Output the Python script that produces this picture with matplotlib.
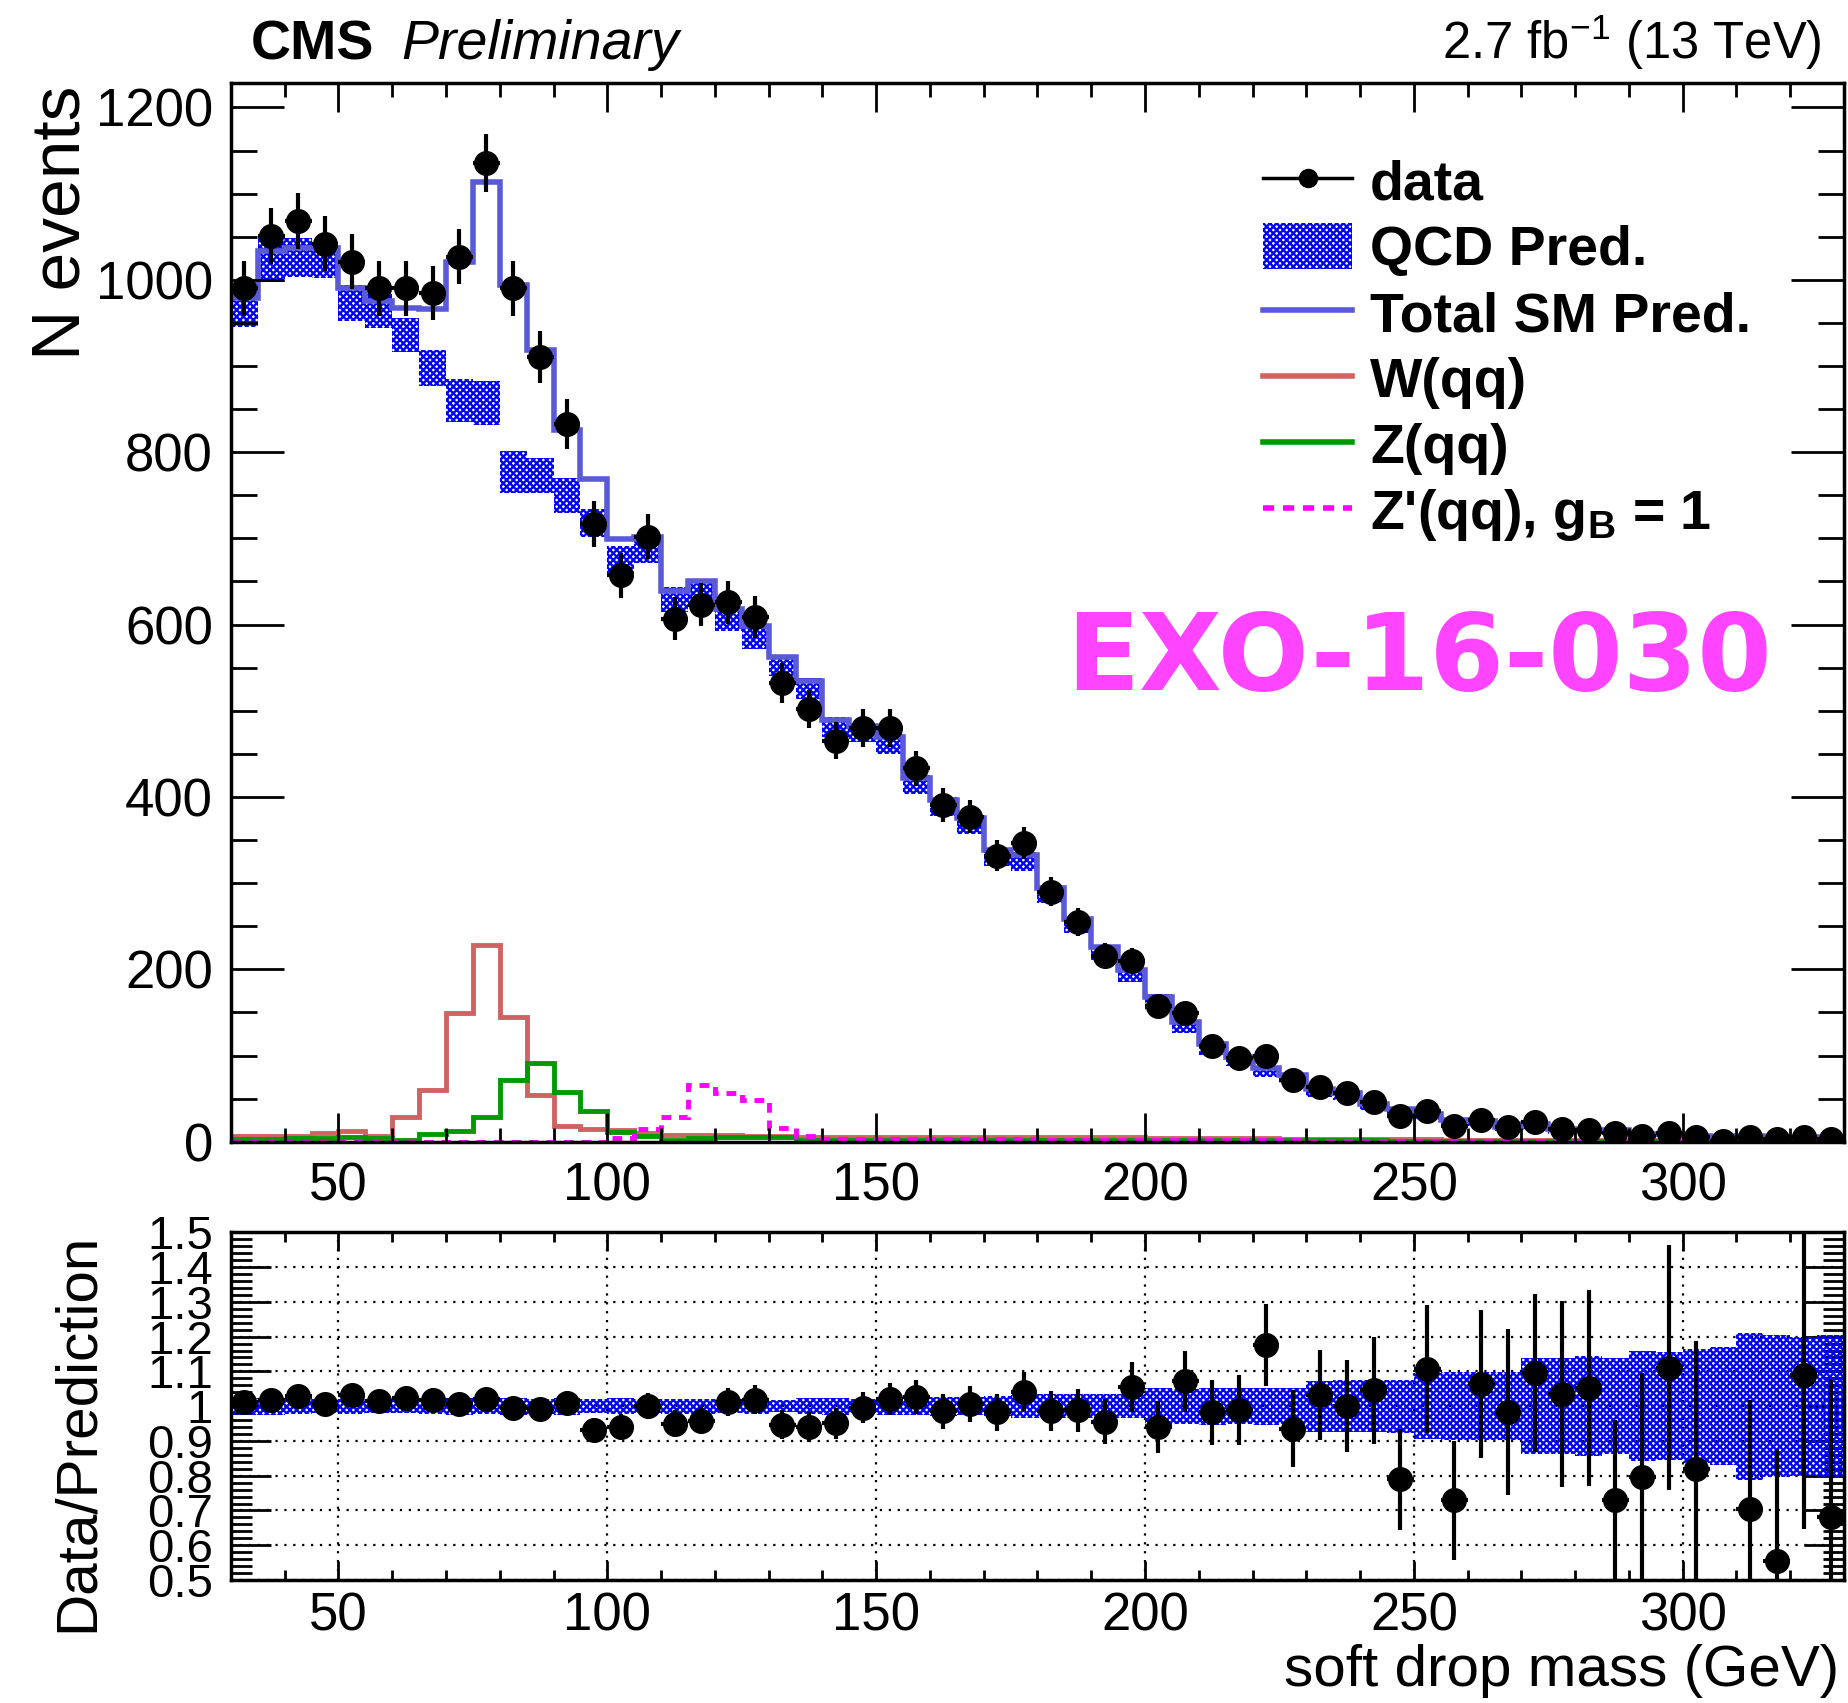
import numpy as np
import matplotlib
matplotlib.use("Agg")
import matplotlib.pyplot as plt
from matplotlib.lines import Line2D
from matplotlib.patches import Patch
from matplotlib.ticker import MultipleLocator, FormatStrFormatter

plt.rcParams['font.family'] = ['Liberation Sans', 'DejaVu Sans']
plt.rcParams['mathtext.fontset'] = 'custom'
plt.rcParams['mathtext.rm'] = 'Liberation Sans'
plt.rcParams['mathtext.bf'] = 'Liberation Sans:bold'
plt.rcParams['hatch.linewidth'] = 1.7

# soft drop mass binning, 5 GeV bins from 30 to 330
edges = np.arange(30, 335, 5)
centers = edges[:-1] + 2.5

data = [990, 1051, 1068, 1042, 1021, 990, 990, 985, 1027, 1136,
        990, 910, 833, 717, 657, 702, 607, 623, 626, 609,
        532, 502, 465, 480, 480, 433, 391, 377, 332, 347,
        290, 255, 216, 210, 158, 149, 111, 97, 100, 72,
        63, 57, 46, 30, 36, 18, 25, 17, 23, 15,
        14, 10, 7, 10, 5, 1, 5, 3, 6, 3]

qcd = [969, 1023, 1026, 1023, 973, 964, 936, 898, 860, 857,
       777, 773, 750, 718, 675, 685, 629, 638, 605, 585,
       550, 526, 481, 474, 462, 414, 389, 367, 330, 325,
       287, 251, 219, 192, 162, 133, 107, 92.5, 79.5, 72.5,
       56.5, 52.5, 39.5, 34, 28.5, 21.7, 20.5, 14.3, 18, 11.5,
       10.3, 11.2, 6.3, 6.5, 4.6, 3.5, 5.6, 3.9, 4, 2.9]

qcd_err = [24, 25, 23, 21, 21, 20, 20, 21, 25, 26,
           24, 20, 20, 16, 16, 14, 14, 14, 12, 13,
           10, 12, 12, 10, 12, 11, 11, 10, 10, 11,
           10, 9, 8, 7, 9, 7, 6, 5, 4.5, 4,
           4.5, 4.3, 3.3, 2.9, 3.1, 2.4, 2.3, 1.7, 2.9, 2,
           1.9, 1.9, 1.4, 1.4, 1.0, 0.85, 1.5, 1.1, 1.1, 0.9]

wqq = [7, 7, 7, 10, 12, 7, 29, 60, 149, 228,
       145, 54, 18, 15, 13, 10, 8, 8, 8, 7,
       7, 6] + [6] * 8 + [5] * 4 + [4] * 5 + [3] * 6 + [2] * 6 + [1.5] * 3 + [1] * 6

zqq = [3, 3, 4, 4, 5, 4, 2, 8.5, 12, 29,
       72, 91, 58, 36, 11, 7, 2, 4, 5, 6,
       5] + [2] * 16 + [1.5] * 6 + [1] * 11 + [0.5] * 6

zprime = [0] * 14 + [4, 15, 29, 66, 56, 48, 16, 7] + [3] * 8 + [2] * 10 + [1] * 20

data = np.array(data, dtype=float)
qcd = np.array(qcd, dtype=float)
qcd_err = np.array(qcd_err, dtype=float)
wqq = np.array(wqq, dtype=float)
zqq = np.array(zqq, dtype=float)
zprime = np.array(zprime, dtype=float)

# total SM prediction = QCD + W + Z
total = qcd + wqq + zqq

sm_color = '#5a5ad8'
w_color = '#d06262'
z_color = '#009a00'
zp_color = '#ff00ff'
band_hatch = 'xxxxx'

fig = plt.figure(figsize=(18.49, 17.03), dpi=100)
ax = fig.add_axes([0.1249, 0.3296, 0.8724, 0.6215])
ax2 = fig.add_axes([0.1249, 0.0722, 0.8724, 0.2042])

# upper panel
ax.bar(centers, 2 * qcd_err, bottom=qcd - qcd_err, width=5,
       facecolor='none', edgecolor='blue', hatch=band_hatch, linewidth=0)
ax.stairs(total, edges, baseline=None, color=sm_color, linewidth=4)
ax.stairs(wqq, edges, baseline=None, color=w_color, linewidth=3.5)
ax.stairs(zqq, edges, baseline=None, color=z_color, linewidth=3.5)
ax.stairs(zprime, edges, baseline=None, color=zp_color, linewidth=3.5,
          linestyle=(0, (2, 1.6)))
ax.errorbar(centers, data, yerr=np.sqrt(data), xerr=2.5, fmt='o',
            color='black', ms=17, elinewidth=3, capsize=0)

ax.set_xlim(30, 330)
ax.set_ylim(0, 1228)
ax.xaxis.set_major_locator(MultipleLocator(50))
ax.xaxis.set_minor_locator(MultipleLocator(10))
ax.yaxis.set_major_locator(MultipleLocator(200))
ax.yaxis.set_minor_locator(MultipleLocator(50))
ax.tick_params(which='both', direction='in', top=True, right=True, width=2,
               labelsize=38)
ax.tick_params(axis='y', which='major', length=38, pad=13)
ax.tick_params(axis='y', which='minor', length=19)
ax.tick_params(axis='x', which='major', length=21, pad=14)
ax.tick_params(axis='x', which='minor', length=10)
for sp in ax.spines.values():
    sp.set_linewidth(2.5)

ax.text(185.4, 524, 'EXO-16-030', color='#ff44ff', fontsize=77,
        family='DejaVu Sans', weight='bold', ha='left', va='baseline')

handles = [
    Line2D([], [], color='black', marker='o', ms=13, lw=2.5),
    Patch(facecolor='none', edgecolor='blue', hatch=band_hatch, linewidth=0),
    Line2D([], [], color=sm_color, lw=4),
    Line2D([], [], color=w_color, lw=4),
    Line2D([], [], color=z_color, lw=4),
    Line2D([], [], color=zp_color, lw=4, linestyle=(0, (2, 1.6))),
]
labels = ['data', 'QCD Pred.', 'Total SM Pred.', 'W(qq)', 'Z(qq)',
          r"Z'(qq), g$_{\mathbf{B}}$ = 1"]
ax.legend(handles, labels, loc='upper left', bbox_to_anchor=(0.64, 0.93),
          frameon=False, borderpad=0, borderaxespad=0,
          prop={'weight': 'bold', 'size': 40}, handlelength=1.6,
          handleheight=0.9, handletextpad=0.32, labelspacing=0.21)

# ratio panel
ax2.bar(centers, 2 * qcd_err / total, bottom=(qcd - qcd_err + wqq + zqq) / total,
        width=5, facecolor='none', edgecolor='blue', hatch=band_hatch, linewidth=0)
ax2.errorbar(centers, data / total, yerr=np.sqrt(data) / total, xerr=2.5,
             fmt='o', color='black', ms=17, elinewidth=3, capsize=0)
ax2.set_xlim(30, 330)
ax2.set_ylim(0.5, 1.5)
ax2.xaxis.set_major_locator(MultipleLocator(50))
ax2.xaxis.set_minor_locator(MultipleLocator(10))
ax2.yaxis.set_major_locator(MultipleLocator(0.1))
ax2.yaxis.set_minor_locator(MultipleLocator(0.02))
ax2.yaxis.set_major_formatter(FormatStrFormatter('%g'))
ax2.grid(True, which='major', color='black', linestyle=(0, (1, 3)), linewidth=1.6)
ax2.set_axisbelow(True)
ax2.tick_params(which='both', direction='in', top=True, right=True, width=2)
ax2.tick_params(axis='y', which='major', length=29, pad=13, labelsize=34)
ax2.tick_params(axis='y', which='minor', length=15)
ax2.tick_params(axis='x', which='major', length=14, pad=8, labelsize=38)
ax2.tick_params(axis='x', which='minor', length=7)
for sp in ax2.spines.values():
    sp.set_linewidth(2.5)

# axis titles and header
fig.text(0.033, 0.950, 'N events', rotation=90, fontsize=50, ha='center', va='top')
fig.text(0.042, 0.2764, 'Data/Prediction', rotation=90, fontsize=42,
         ha='center', va='top')
fig.text(0.9946, 0.010, 'soft drop mass (GeV)', fontsize=42, ha='right',
         va='baseline')
fig.text(0.1357, 0.9653, 'CMS', fontsize=40, weight='bold', va='baseline')
fig.text(0.2169, 0.9653, 'Preliminary', fontsize=40, style='italic', va='baseline')
fig.text(0.9854, 0.9653, r'2.7 fb$^{-1}$ (13 TeV)', fontsize=36.5, ha='right',
         va='baseline')

fig.savefig('out.png', dpi=100)
